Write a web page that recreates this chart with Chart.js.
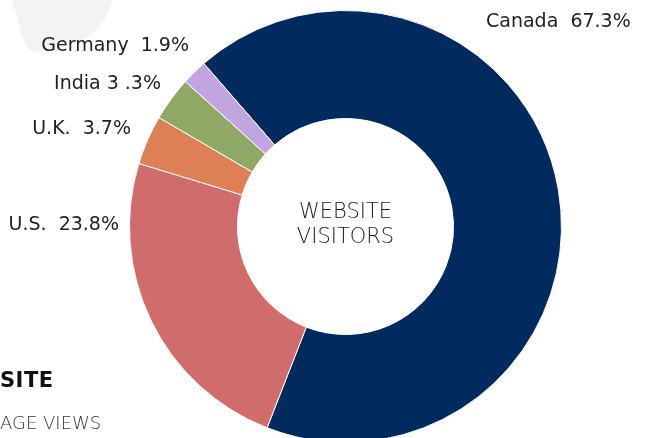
<!DOCTYPE html>
<html>
<head>
<meta charset="utf-8">
<script src="https://cdn.jsdelivr.net/npm/chart.js@4"></script>
<style>
  html, body { margin: 0; padding: 0; background: #fff; overflow: hidden; width: 647px; height: 438px; }
  #wrap { position: relative; width: 647px; height: 438px; }
  #blob { position: absolute; left: 0; top: 0; }
  #mychart { position: absolute; left: 0; top: 0; }
  .side { position: absolute; left: 0; font-family: "DejaVu Sans", sans-serif; white-space: nowrap; line-height: 1; }
  #t1 { top: 370px; font-size: 21px; font-weight: bold; color: #111; letter-spacing: 0.5px; }
  #t2 { top: 414px; font-size: 18px; font-weight: 200; color: #333; }
</style>
</head>
<body>
<div id="wrap">
  <svg id="blob" width="130" height="60">
    <path d="M12,0 L112,0 C108,22 92,40 60,48 C45,52 34,54 28,48 C22,40 19,26 16,14 C15,8 13,3 12,0 Z" fill="#f3f3f1"/>
  </svg>
  <canvas id="mychart" width="647" height="453"></canvas>
  <div class="side" id="t1">SITE</div>
  <div class="side" id="t2">AGE VIEWS</div>
</div>
<script>
	const countries = ['Canada', 'U.S.', 'U.K.', 'India', 'Germany'];
	const visitors = [67.3, 23.8, 3.7, 3.3, 1.9];
	const labelText = ['Canada  67.3%', 'U.S.  23.8%', 'U.K.  3.7%', 'India 3 .3%', 'Germany  1.9%'];
	const colours = ['#012a5e', '#d06d6c', '#df7f55', '#8fa866', '#c2a4e0'];

	// where each label sits on the page
	const labelSpots = [[486, 22, 'left'], [119, 225, 'right'], [131, 129, 'right'], [161, 84, 'right'], [189, 46, 'right']];

	const labelPlugin = {
		id: 'labelPlugin',
		afterDraw(chart) {
			const ctx = chart.ctx;
			ctx.save();
			ctx.fillStyle = '#222';
			ctx.font = '19px "DejaVu Sans", sans-serif';
			ctx.textBaseline = 'middle';
			for (var i = 0; i < labelText.length; i++) {
				ctx.textAlign = labelSpots[i][2];
				ctx.fillText(labelText[i], labelSpots[i][0], labelSpots[i][1]);
			}
			const arc = chart.getDatasetMeta(0).data[0];
			ctx.textAlign = 'center';
			ctx.fillStyle = '#1a1a1a';
			ctx.font = '200 21px "DejaVu Sans", sans-serif';
			ctx.fillText('WEBSITE', arc.x, arc.y - 14);
			ctx.fillText('VISITORS', arc.x, arc.y + 11);
			ctx.restore();
		}
	};

	var ctx = document.getElementById('mychart').getContext('2d');
	var myChart = new Chart(ctx, {
		type: 'doughnut',
		data: {
			labels: countries,
			datasets: [{
				data: visitors,
				backgroundColor: colours,
				borderColor: '#fff',
				borderWidth: 1
			}]
		},
		options: {
			responsive: false,
			animation: false,
			cutout: '50%',
			rotation: -41,
			layout: { padding: { left: 129, right: 85, top: 10, bottom: 10 } },
			plugins: { legend: { display: false }, tooltip: { enabled: false } }
		},
		plugins: [labelPlugin]
	});
</script>
</body>
</html>
